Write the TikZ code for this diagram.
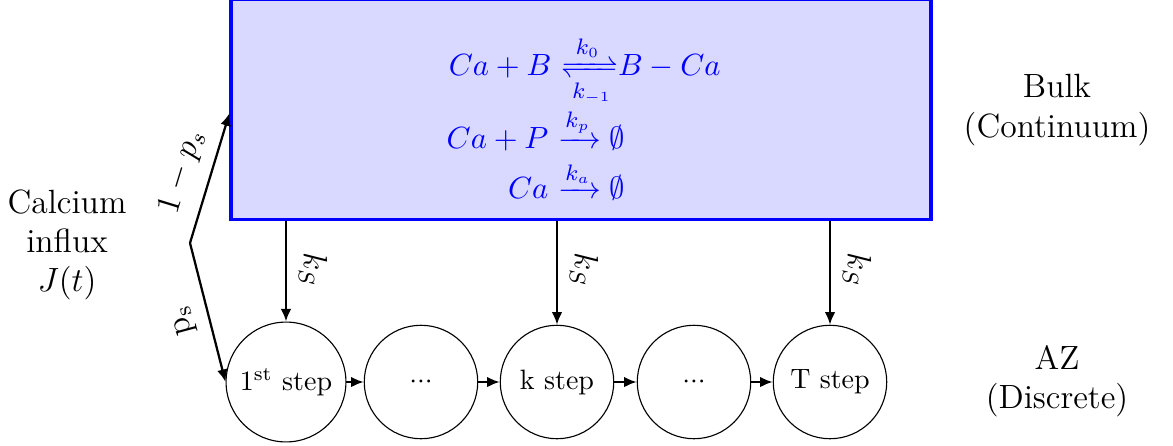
\documentclass[tikz,border=0pt]{standalone}
\usepackage{amsmath,mathtools,amssymb}
\usetikzlibrary{arrows.meta}
\newcommand{\tightdots}{$\mathord{\cdot}\mathord{\cdot}\mathord{\cdot}$}
\begin{document}
\begin{tikzpicture}[x=0.357pt,y=-0.357pt,
  arr/.style={thick,-{Latex[length=4.5pt,width=3.8pt]}},
  stepnode/.style={circle,draw,minimum size=40.5pt,inner sep=3.33pt},
  big/.style={font=\large,align=center},
  chem/.style={text=blue,font=\fontsize{11}{13}\selectfont,inner sep=0pt},
  klabel/.style={font=\large,rotate=-90}]
\useasboundingbox (0,0) rectangle (1173,445);
% bulk box
\node[draw=blue,fill=blue!15,line width=1.1pt,minimum width=249.9pt,minimum height=78.7pt,inner sep=0pt] (bulk) at (581,109.25) {};
% reactions
\node[chem,anchor=base east] (r1l) at (552,75) {$Ca+B$};
\node[chem,anchor=base west] (r1r) at (552,75) {${}\xrightleftharpoons[k_{-1}]{k_0}\mskip-\thickmuskip B-Ca$};
\node[chem,anchor=base east] (r2l) at (549,148) {$Ca+P$};
\node[chem,anchor=base west] (r2r) at (549,148) {${}\xrightarrow{k_p}\emptyset$};
\node[chem,anchor=base east] (r3l) at (549,198) {$Ca$};
\node[chem,anchor=base west] (r3r) at (549,198) {${}\xrightarrow{k_a}\emptyset$};
% steps
\node[stepnode] (s1) at (286,382) {1\textsuperscript{st} step};
\node[stepnode] (s2) at (421,382) {\tightdots};
\node[stepnode] (s3) at (557,382) {k step};
\node[stepnode] (s4) at (694,382) {\tightdots};
\node[stepnode] (s5) at (830,382) {T step};
\draw[arr] (s1) -- (s2);
\draw[arr] (s2) -- (s3);
\draw[arr] (s3) -- (s4);
\draw[arr] (s4) -- (s5);
% vertical arrows
\draw[arr] (bulk.south -| s1.north) -- (s1.north);
\draw[arr] (bulk.south -| s3.north) -- (s3.north);
\draw[arr] (bulk.south -| s5.north) -- (s5.north);
\node[klabel] (k1) at (313,270) {$k_S$};
\node[klabel] (k3) at (584,270) {$k_S$};
\node[klabel] (k5) at (857,270) {$k_S$};
% influx
\node[big] (influx) at (67,245) {Calcium\\influx\\$J(t)$};
\coordinate (J) at (190,243);
\draw[arr] (J) -- ([yshift=-1.4pt]bulk.west);
\draw[arr] (J) -- (s1.west);
\node[big,rotate=73] (lup) at (182,172) {$1-p_s$};
\node[big,rotate=105] (ldown) at (184,320) {$\mathrm{p_s}$};
% side labels
\node[big] (bulklab) at (1057,110) {Bulk\\(Continuum)};
\node[big] (azlab) at (1057,381) {AZ\\(Discrete)};
\end{tikzpicture}
\end{document}
